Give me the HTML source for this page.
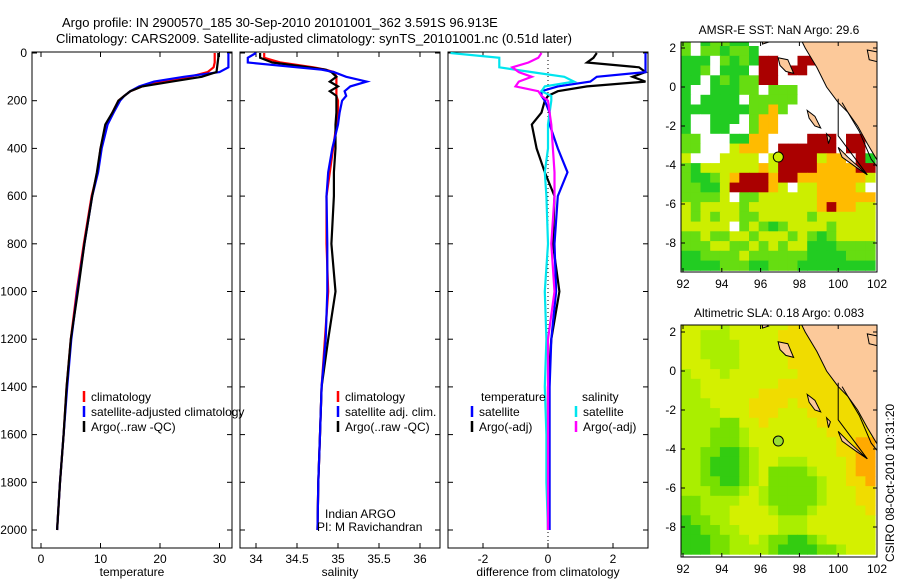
<!DOCTYPE html>
<html><head><meta charset="utf-8">
<style>
body{margin:0;background:#fff;}
svg{display:block;font-family:"Liberation Sans",sans-serif;}
text{font-size:12px;fill:#000;}
</style></head>
<body>
<svg id="fig" width="900" height="580" viewBox="0 0 900 580" xmlns="http://www.w3.org/2000/svg">
<defs>
<clipPath id="c1"><rect x="32" y="52" width="200" height="496"/></clipPath>
<clipPath id="c2"><rect x="240" y="52" width="200" height="496"/></clipPath>
<clipPath id="c3"><rect x="448" y="52" width="200" height="496"/></clipPath>
<clipPath id="cm1"><rect x="681" y="42" width="196" height="230"/></clipPath>
<clipPath id="cm2"><rect x="681" y="325" width="196" height="232"/></clipPath>
</defs>
<text x="62" y="27" style="font-size:13px">Argo profile: IN 2900570_185 30-Sep-2010 20101001_362 3.591S 96.913E</text>
<text x="56" y="43" style="font-size:13px">Climatology: CARS2009. Satellite-adjusted climatology: synTS_20101001.nc (0.51d later)</text>
<g id="g"></g>
<text x="894" y="562" transform="rotate(-90 894 562)">CSIRO 08-Oct-2010 10:31:20</text>
</svg>
<script>
const depths=[0,20,40,60,80,100,120,140,160,180,200,250,300,400,500,600,800,1000,1200,1400,1600,1800,2000];
const tempClim=[29.2,29.2,29.2,29.0,28,25,20,17,15,14,13,12,11,10,9.5,8.5,7.2,6.0,5.0,4.3,3.8,3.2,2.7];
const tempSat=[31.5,31.5,31.5,31.5,30,24,19,16.5,15,14,13.3,12.2,11.2,10.2,9.6,8.6,7.3,6.1,5.1,4.4,3.8,3.2,2.7];
const tempArgo=[29.8,29.8,29.7,29.6,29.5,27,22,17,15,14,13,12,10.8,10,9.4,8.6,7.3,6.2,5.0,4.3,3.8,3.2,2.7];
const salDepths=[0,20,40,60,70,80,100,120,140,160,180,200,250,300,400,500,600,800,1000,1200,1400,1600,1800,2000];
const salClim=[34.1,34.1,34.3,34.7,34.85,34.95,34.98,34.98,34.98,34.98,34.98,35.0,35.0,34.98,34.94,34.9,34.86,34.86,34.88,34.84,34.8,34.78,34.76,34.75];
const salSat=[34.0,33.9,33.9,34.5,34.8,34.95,35.1,35.35,35.15,35.08,35.1,35.05,35.02,35.0,34.93,34.88,34.86,34.87,34.87,34.85,34.8,34.78,34.76,34.75];
const salArgo=[34.05,34.05,34.2,34.65,34.85,34.92,34.98,34.9,35.0,34.9,34.98,34.98,34.98,34.97,34.97,34.95,34.95,34.92,34.97,34.88,34.8,34.78,34.76,34.75];
const diffTempArgo=[1.5,1.4,1.2,2.8,3,2.6,3,1.2,0.3,0,-0.1,-0.2,-0.5,-0.35,-0.1,0.2,0.15,0.35,0.1,0,0,0,0];
const diffTempSat=[3,3,3,3,3,1.5,1.3,0.3,-0.2,-0.2,-0.1,0.05,0.05,0.3,0.6,0.3,0.2,0.25,0.1,0.05,0.05,0.05,0.05];
const diffSalSat=[-3,-1.5,-1.5,-1.5,-0.5,0.5,0.8,-0.1,-0.2,0.1,0.1,0.05,0,0,-0.1,-0.05,0,-0.1,-0.05,-0.1,-0.05,-0.05,0];
const diffSalArgo=[-0.2,-0.3,-0.6,-1.1,-0.9,-0.5,-0.9,-1,-0.3,-0.2,0,0.05,0.1,0.15,0.2,0.2,0.1,0.2,0,0,0,0,0];
const depthTicks=[0,200,400,600,800,1000,1200,1400,1600,1800,2000];
const tempTicks=[0,10,20,30];
const salTicks=[34,34.5,35,35.5,36];
const diffTicks=[-2,0,2];
const lonTicks=[92,94,96,98,100,102];
const latTicks=[2,0,-2,-4,-6,-8];
const sstRows=[
"LWGLLGGWWWWWWWWWWWWW","LWLLGLLGWWWWWWWWWWWW","GGGWLGLGRRWWRRWWWWWW","GGLWGGGWRRWRRWWWWWWW",
"GGWGLGLLRRWWWWWWWWWW","GWWGGGLLWLLLWWWWWWWW","GWGGGGWLLLLLWWWWWWWW","GGGGGGGLLOLWWWWWWWWW",
"GWWGGGWLOOWWWWWWWWWW","GWWGGWWLOOWWWWWWWWWW","LLWWWGGOOWWWWRRRWRRW","LLWWWYOOOWRRRRRRWRRW",
"YWWWYYYYWYRRRRYOOWRG","LGYYYYYYOYRRRROOOORR","LGGLYORRRORROOOOOOOY","LLGGYRRRROYWYYOOOOYW",
"LLLLYWLLYYYYYYOOOOOO","YLYYYYLYYYYYYYOROOYY","YLYLYYLLYYYYYLYYYYYY","YYYYYWLYLGLYYYYLYYYY",
"LLYLLYYLYYYLYLGLYYYY","LLLYYLLYLYLYYGGGLLLL","GGLLLLYLLLLLLGGGGLLL","GGGGLLLGGLLLGGGGGGGG"];
const slaRows=[
"YYYYKYYYYYYEEEYYYYYY","YYKKKYYYYYEEEEEYYYYY","YYKKKKYYYYEEEEEEYYYY","YYKKKKYYYYYEEEEEEYYY",
"YYYKKKYYYYYEEEEEEYYY","KYYYKYYYYYYYEEEEEYYY","KKYYYYYYYYEEEEEEEEYY","KKYYYYYYEEEEEEEEEEEY",
"KKKYYYYEEEEYEEEEEEEY","KKKKYYYEEEYYYEEEEEEE","KKKKLLYYEYYYYYEEEEEE","KKKLLLKYYYYYYYYEEEEE",
"KKKLLLKYYYYYYYYYEEOO","KKLLGGLKYYYYYYYYEEOO","KKLGGGLKYYKKKYYYYEOO","KKLGGGLKYLLLLKYYYEOO",
"KKLLGGLKYLLLLLKYYEEO","KKKLLLKYKLLLLLKYYYEE","LLKKKKYYKLLLLLKYYYEE","LLKKKYYYYKLLLKYYYYYE",
"GLLKKYYYYYKKKYYYYYYY","GGLLKKYYYYKKKYYYYYYY","GGGLLKKYKLLGGLKYYYYY","GGGLLKKKKLGGGGLLKYYY"];
const sstColors={W:"#ffffff",G:"#22cc22",L:"#66dd11",Y:"#ccee00",O:"#ffbb00",R:"#aa0000"};
const slaColors={G:"#33cc11",L:"#77e000",K:"#aaee00",Y:"#d4f000",E:"#f0dc00",O:"#ffaa00"};

const NS="http://www.w3.org/2000/svg";
const G=document.getElementById("g");
function mk(tag,attrs,parent){const e=document.createElementNS(NS,tag);for(const k in attrs)e.setAttribute(k,attrs[k]);(parent||G).appendChild(e);return e;}
const yD=d=>53+d*0.2385;
const xT=v=>41+v*5.95;
const xS=v=>256+(v-34)*82;
const xDf=v=>548+v*32.5;

function panel(x0,clip,xf,ticks,fmt,xlabel,name){
  const fr=mk("rect",{x:x0,y:52,width:200,height:496,fill:"none",stroke:"#000"});
  
  
  depthTicks.forEach(d=>{
    const y=yD(d);
    mk("line",{x1:x0,x2:x0+5,y1:y,y2:y,stroke:"#000"});
    mk("line",{x1:x0+195,x2:x0+200,y1:y,y2:y,stroke:"#000"});
  });
  ticks.forEach(t=>{
    const x=xf(t);
    mk("line",{x1:x,x2:x,y1:548,y2:543,stroke:"#000"});
    mk("line",{x1:x,x2:x,y1:52,y2:57,stroke:"#000"});
    const tx=mk("text",{x:x,y:563,"text-anchor":"middle"});tx.textContent=fmt(t);
    
    
  });
  const xl=mk("text",{x:x0+100,y:576,"text-anchor":"middle"});xl.textContent=xlabel;
  
  
}
function line(ds,vals,xf,color,clip,name){
  const pts=ds.map((d,i)=>xf(vals[i]).toFixed(1)+","+yD(d).toFixed(1)).join(" ");
  const p=mk("polyline",{points:pts,fill:"none",stroke:color,"stroke-width":2.2,"clip-path":"url(#"+clip+")"});
  
  
}
depthTicks.forEach(d=>{
  const t=mk("text",{x:27,y:yD(d)+4,"text-anchor":"end"});t.textContent=d;
  
  
});
panel(32,"c1",xT,tempTicks,t=>t,"temperature","temperature-panel");
panel(240,"c2",xS,salTicks,t=>t,"salinity","salinity-panel");
panel(448,"c3",xDf,diffTicks,t=>t,"difference from climatology","difference-panel");
mk("line",{x1:xDf(0),x2:xDf(0),y1:52,y2:548,stroke:"#000","stroke-dasharray":"1,3"});

line(depths,tempClim,xT,"#ff0000","c1","temp-climatology-line");
line(depths,tempSat,xT,"#0000ff","c1","temp-satellite-line");
line(depths,tempArgo,xT,"#000000","c1","temp-argo-line");
line(salDepths,salClim,xS,"#ff0000","c2","sal-climatology-line");
line(salDepths,salArgo,xS,"#000000","c2","sal-argo-line");
line(salDepths,salSat,xS,"#0000ff","c2","sal-satellite-line");
line(depths,diffTempArgo,xDf,"#000000","c3","diff-temp-argo-line");
line(depths,diffTempSat,xDf,"#0000ff","c3","diff-temp-satellite-line");
line(depths,diffSalSat,xDf,"#00e5ee","c3","diff-sal-satellite-line");
line(depths,diffSalArgo,xDf,"#ff00ff","c3","diff-sal-argo-line");

function legend(x,y,color,label,name){
  mk("line",{x1:x,x2:x,y1:y-10,y2:y+1,stroke:color,"stroke-width":2.5});
  const t=mk("text",{x:x+7,y:y});t.textContent=label;
  
  
}
legend(84,401,"#ff0000","climatology","legend-climatology");
legend(84,416,"#0000ff","satellite-adjusted climatology","legend-satellite");
legend(84,431,"#000000","Argo(..raw -QC)","legend-argo");
legend(338,401,"#ff0000","climatology","legend-sal-climatology");
legend(338,416,"#0000ff","satellite adj. clim.","legend-sal-satellite");
legend(338,431,"#000000","Argo(..raw -QC)","legend-sal-argo");
let t=mk("text",{x:481,y:401});t.textContent="temperature";


t=mk("text",{x:582,y:401});t.textContent="salinity";


legend(472,416,"#0000ff","satellite","legend-diff-temp-satellite");
legend(472,431,"#000000","Argo(-adj)","legend-diff-temp-argo");
legend(576,416,"#00e5ee","satellite","legend-diff-sal-satellite");
legend(576,431,"#ff00ff","Argo(-adj)","legend-diff-sal-argo");
t=mk("text",{x:325,y:518});t.textContent="Indian ARGO";


t=mk("text",{x:317,y:531});t.textContent="PI: M Ravichandran";



const xLon=lon=>683+(lon-92)*19.4;
function drawMap(top,bot,y0,rows,colors,clip,title,name){
  const yLat=lat=>y0-lat*19.5;
  rows.forEach((r,ri)=>{
    for(let ci=0;ci<r.length;ci++){
      const lat=2.6-ri*0.5, lon=91.9+ci*0.5;
      const c=mk("rect",{x:xLon(lon).toFixed(1),y:yLat(lat).toFixed(1),width:10.2,height:10.2,fill:colors[r[ci]],"clip-path":"url(#"+clip+")"});
      
      
    }
  });
  const coast=[[97.9,2.8],[98.3,2.0],[98.9,1.0],[99.4,0],[100,-0.8],[100.5,-1.3],[101,-2],[101.5,-2.9],[102.1,-3.9],[102.1,2.8]];
  const land=mk("polygon",{points:coast.map(p=>xLon(p[0]).toFixed(1)+","+yLat(p[1]).toFixed(1)).join(" "),fill:"#fcc99a",stroke:"#000","stroke-width":1,"clip-path":"url(#"+clip+")"});
  
  
  const islands=[[[96.9,1.5],[97.4,1.4],[97.7,0.7],[97.3,0.8],[97.0,1.1]],[[98.4,-1.2],[98.8,-1.5],[99.1,-2.1],[98.8,-2.0],[98.5,-1.6]],[[99.4,-2.4],[99.6,-2.6],[99.5,-2.9]],[[100.0,-3.1],[100.5,-3.6],[101.5,-4.5],[100.9,-4.1],[100.2,-3.6]],[[101.5,1.9],[102,1.8],[102,1.3],[101.6,1.4]],[[96.1,2.5],[96.4,2.3],[96.1,2.2]]];
  islands.forEach(isl=>{
    const p=mk("polygon",{points:isl.map(q=>xLon(q[0]).toFixed(1)+","+yLat(q[1]).toFixed(1)).join(" "),fill:"#fcc99a",stroke:"#000","stroke-width":1,"clip-path":"url(#"+clip+")"});
    
    
  });
  mk("polyline",{points:[[100,-0.6],[100,-2.5],[101.5,-4.5]].map(q=>xLon(q[0]).toFixed(1)+","+yLat(q[1]).toFixed(1)).join(" "),fill:"none",stroke:"#000","stroke-width":1,"clip-path":"url(#"+clip+")"});
  mk("polyline",{points:[[100.2,-0.8],[101.1,-2.3],[101.7,-3.7],[102.1,-4.2]].map(q=>xLon(q[0]).toFixed(1)+","+yLat(q[1]).toFixed(1)).join(" "),fill:"none",stroke:"#000","stroke-width":1,"clip-path":"url(#"+clip+")"});
  const dot=mk("circle",{cx:xLon(96.913),cy:yLat(-3.591),r:5,fill:name==="sst-map"?"#ccee00":"#99dd33",stroke:"#000"});
  
  
  const fr=mk("rect",{x:681,y:top,width:196,height:bot-top,fill:"none",stroke:"#000"});
  
  
  lonTicks.forEach(l=>{
    const x=xLon(l);
    mk("line",{x1:x,x2:x,y1:bot,y2:bot-4,stroke:"#000"});
    mk("line",{x1:x,x2:x,y1:top,y2:top+4,stroke:"#000"});
    const tx=mk("text",{x:x,y:bot+16,"text-anchor":"middle"});tx.textContent=l;
    
    
  });
  latTicks.forEach(l=>{
    const y=yLat(l);
    mk("line",{x1:681,x2:685,y1:y,y2:y,stroke:"#000"});
    mk("line",{x1:873,x2:877,y1:y,y2:y,stroke:"#000"});
    const tx=mk("text",{x:676,y:y+4,"text-anchor":"end"});tx.textContent=l;
    
    
  });
  const tt=mk("text",{x:779,y:top-8,"text-anchor":"middle"});tt.textContent=title;
  
  
}
drawMap(42,272,87,sstRows,sstColors,"cm1","AMSR-E SST: NaN Argo: 29.6","sst-map");
drawMap(325,557,371,slaRows,slaColors,"cm2","Altimetric SLA: 0.18 Argo: 0.083","sla-map");
</script>
</body></html>
